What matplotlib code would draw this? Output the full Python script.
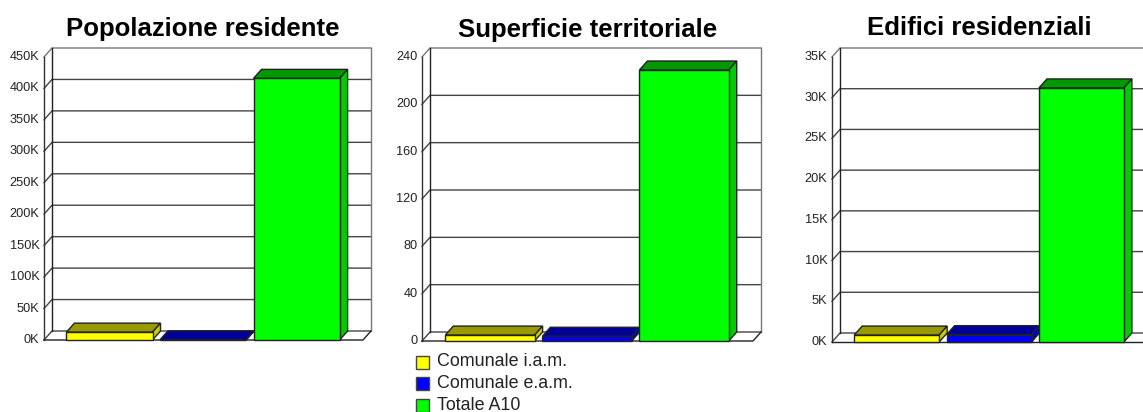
import matplotlib
matplotlib.use("Agg")
import matplotlib.pyplot as plt
from matplotlib.patches import Polygon, Rectangle

plt.rcParams["font.family"] = ["Liberation Sans", "DejaVu Sans"]

W, H = 1143, 412

categories = ["Comunale i.a.m.", "Comunale e.a.m.", "Totale A10"]
titles = ["Popolazione residente", "Superficie territoriale", "Edifici residenziali"]

popolazione = [12500, 300, 416000]
superficie = [5, 4, 229]
edifici = [850, 900, 31200]

pop_ticks = [0, 50000, 100000, 150000, 200000, 250000, 300000, 350000, 400000, 450000]
sup_ticks = [0, 40, 80, 120, 160, 200, 240]
edi_ticks = [0, 5000, 10000, 15000, 20000, 25000, 30000, 35000]

pop_labels = ["0K", "50K", "100K", "150K", "200K", "250K", "300K", "350K", "400K", "450K"]
sup_labels = ["0", "40", "80", "120", "160", "200", "240"]
edi_labels = ["0K", "5K", "10K", "15K", "20K", "25K", "30K", "35K"]

front_colors = ["#ffff00", "#0000ff", "#00ff00"]
top_colors = ["#999900", "#000099", "#009900"]
side_colors = ["#cccc00", "#0000cc", "#00cc00"]

DX, DY = 8, 9  # 3d depth in pixels


def draw_panel(left, right, base, top, title, title_x, title_y, values, ticks, labels):
    ax = fig.add_axes([left / W, 1 - base / H, (right - left) / W, (base - top) / H])
    ax.set_xlim(-0.7, 2.71)
    ax.set_ylim(ticks[0], ticks[-1])
    ax.axis("off")

    # depth in data units
    dx = DX * 3.41 / (right - left)
    dy = DY * ticks[-1] / (base - top)
    x0, x1 = ax.get_xlim()

    # walls and gridlines
    for t in ticks:
        color = "#777777" if t == ticks[-1] else "#444444"
        ax.plot([x0, x0 + dx, x1 + dx], [t, t + dy, t + dy], color=color, lw=1,
                clip_on=False, zorder=1, solid_joinstyle="miter")
    ax.plot([x0, x0], [0, ticks[-1]], color="#333333", lw=1, clip_on=False, zorder=1)
    ax.plot([x0 + dx, x0 + dx], [dy, ticks[-1] + dy], color="#222222", lw=1, clip_on=False, zorder=1)
    ax.plot([x1 + dx, x1 + dx], [dy, ticks[-1] + dy], color="#777777", lw=1, clip_on=False, zorder=1)
    ax.plot([x0, x1, x1 + dx], [0, 0, dy], color="#222222", lw=1, clip_on=False, zorder=1)

    # bars
    w = 0.92
    for i, v in enumerate(values):
        a, b = i - w / 2, i + w / 2
        ax.add_patch(Polygon([(a, v), (a + dx, v + dy), (b + dx, v + dy), (b, v)],
                             facecolor=top_colors[i], edgecolor="#222222", lw=1,
                             clip_on=False, zorder=3 + i))
        ax.add_patch(Polygon([(b, 0), (b + dx, dy), (b + dx, v + dy), (b, v)],
                             facecolor=side_colors[i], edgecolor="#222222", lw=1,
                             clip_on=False, zorder=3 + i))
        ax.bar(i, v, width=w, color=front_colors[i], edgecolor="#222222", lw=1,
               clip_on=False, zorder=3 + i)

    for t, lab in zip(ticks, labels):
        ax.annotate(lab, (x0, t), xytext=(-3.3, 0), textcoords="offset points",
                    ha="right", va="center", fontsize=9.2, color="#222222",
                    annotation_clip=False)

    fig.text(title_x / W, 1 - title_y / H, title, ha="center", va="baseline",
             fontsize=18.5, fontweight="bold", color="black")


fig = plt.figure(figsize=(W / 100, H / 100), dpi=100, facecolor="white")

draw_panel(44, 363, 340, 57, titles[0], 202.5, 36, popolazione, pop_ticks, pop_labels)
draw_panel(422, 753, 341, 57, titles[1], 588, 37, superficie, sup_ticks, sup_labels)
draw_panel(832, 1147, 342, 57, titles[2], 979.5, 35, edifici, edi_ticks, edi_labels)

# legend under the middle chart
for i, name in enumerate(categories):
    y = 362 + i * 21.7
    fig.add_artist(Rectangle((416 / W, 1 - (y + 6.5) / H), 13 / W, 13 / H,
                             transform=fig.transFigure, facecolor=front_colors[i],
                             edgecolor="#444444", lw=1))
    fig.text(437 / W, 1 - y / H, name, ha="left", va="center", fontsize=12.9, color="#222222")

fig.savefig("out.png", dpi=100)
